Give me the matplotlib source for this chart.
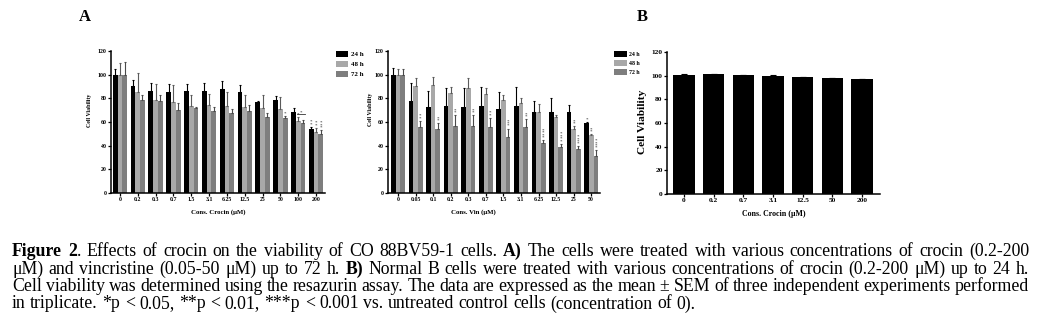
import matplotlib
matplotlib.use('Agg')
import matplotlib.pyplot as plt
import numpy as np
from matplotlib.patches import Patch
from matplotlib.font_manager import FontProperties

plt.rcParams['font.family'] = ['Liberation Serif', 'DejaVu Serif']

# ---------------- data ----------------
series = ['24 h', '48 h', '72 h']
bar_colors = ['#000000', '#a8a8a8', '#7e7e7e']
err_colors = ['#000000', '#5a5a5a', '#4a4a4a']

crocin_labels = ['0', '0.2', '0.3', '0.7', '1.5', '3.1', '6.25', '12.5', '25', '50', '100', '200']
crocin_24 = [100.0, 90.7, 86.0, 85.0, 86.0, 86.4, 87.8, 85.6, 77.1, 78.2, 68.2, 54.0]
crocin_48 = [100.0, 85.6, 78.2, 77.0, 73.4, 74.3, 73.9, 72.6, 71.5, 71.0, 61.0, 51.3]
crocin_72 = [100.0, 78.5, 77.7, 69.8, 71.5, 69.2, 67.2, 69.5, 64.4, 63.0, 59.4, 49.6]
crocin_24_err = [5.0, 4.8, 6.7, 7.0, 6.0, 6.3, 6.7, 5.4, 0.9, 3.4, 3.3, 2.0]
crocin_48_err = [10.0, 15.4, 13.8, 14.0, 9.4, 9.7, 11.1, 10.2, 11.3, 10.4, 3.5, 3.9]
crocin_72_err = [11.0, 4.3, 5.1, 5.9, 1.5, 3.8, 3.8, 4.5, 3.0, 2.2, 2.3, 3.6]
crocin_sig = [(9, 2, '*'), (10, 1, '*'), (11, 0, '**'), (11, 1, '**'), (11, 2, '***')]

vin_labels = ['0', '0.05', '0.1', '0.2', '0.3', '0.7', '1.5', '3.1', '6.25', '12.5', '25', '50']
vin_24 = [100.0, 78.0, 72.9, 73.7, 72.9, 73.7, 70.9, 73.7, 68.6, 68.6, 68.6, 58.8]
vin_48 = [100.0, 90.7, 91.2, 84.7, 88.4, 83.6, 79.0, 76.3, 68.6, 64.4, 53.7, 48.9]
vin_72 = [100.0, 55.4, 54.5, 56.5, 57.0, 55.4, 47.5, 55.4, 42.4, 39.0, 37.6, 31.4]
vin_24_err = [5.5, 14.7, 13.5, 15.3, 16.1, 16.1, 14.1, 15.6, 9.4, 11.4, 5.7, 1.4]
vin_48_err = [4.5, 6.3, 7.1, 5.1, 8.6, 5.4, 3.8, 4.2, 6.3, 1.4, 2.8, 0.8]
vin_72_err = [5.0, 5.6, 4.3, 9.3, 8.8, 8.2, 7.0, 7.0, 2.2, 2.8, 1.9, 4.6]
vin_sig = [(1, 2, '**'), (2, 2, '**'), (3, 2, '**'), (4, 2, '**'), (5, 2, '**'),
           (6, 2, '***'), (7, 2, '**'), (8, 2, '****'), (9, 2, '****'),
           (10, 1, '**'), (10, 2, '****'), (11, 0, '*'), (11, 1, '**'), (11, 2, '****')]

normal_labels = ['0', '0.2', '0.7', '3.1', '12.5', '50', '200']
normal_24 = [100.6, 101.2, 100.2, 99.8, 98.8, 98.0, 96.8]
normal_24_err = [0.5, 0.4, 0.4, 0.4, 0.4, 0.4, 0.5]

# caption: list of (text, bold) segments per line
caption_lines = [
    [("Figure 2", True), (". Effects of crocin on the viability of CO 88BV59-1 cells. ", False),
     ("A)", True), (" The cells were treated with various concentrations of crocin (0.2-200", False)],
    [("μM) and vincristine (0.05-50 μM) up to 72 h. ", False), ("B)", True),
     (" Normal B cells were treated with various concentrations of crocin (0.2-200 μM) up to 24 h.", False)],
    [("Cell viability was determined using the resazurin assay. The data are expressed as the mean ± SEM of three independent experiments performed", False)],
    [("in triplicate. *p < 0.05, **p < 0.01, ***p < 0.001 vs. untreated control cells (concentration of 0).", False)],
]
caption_justify = [True, True, True, False]

# ---------------- figure ----------------
W, H = 1040, 326
fig = plt.figure(figsize=(W / 100, H / 100), dpi=100)


def px_rect(left, right, top, bottom):
    return [left / W, (H - bottom) / H, (right - left) / W, (bottom - top) / H]


def style_axes(ax, labels, tick_fs, xlim):
    ax.set_ylim(0, 120)
    ax.set_yticks(np.arange(0, 121, 20))
    ax.set_xlim(*xlim)
    ax.set_xticks(np.arange(len(labels)))
    ax.set_xticklabels(labels)
    for s in ['top', 'right']:
        ax.spines[s].set_visible(False)
    for s in ['left', 'bottom']:
        ax.spines[s].set_linewidth(1.1)
    ax.tick_params(axis='both', length=2, width=0.9, pad=1.2, labelsize=tick_fs)
    for t in ax.get_xticklabels() + ax.get_yticklabels():
        t.set_fontweight('bold')


def grouped(ax, means, errs, width):
    x = np.arange(len(means[0]))
    n = len(means)
    for i, (m, e) in enumerate(zip(means, errs)):
        off = (i - (n - 1) / 2) * width
        ax.bar(x + off, m, width, color=bar_colors[i], edgecolor='none',
               yerr=[np.zeros(len(e)), e],
               error_kw=dict(ecolor=err_colors[i], elinewidth=0.8, capsize=1.0, capthick=0.8))
    return x


def sig_marks(ax, sig, means, errs, width, fs):
    n = len(means)
    for g, s, mark in sig:
        xo = g + (s - (n - 1) / 2) * width
        top = means[s][g] + errs[s][g]
        ax.text(xo, top + 0.5, '\n'.join(mark), ha='center', va='bottom',
                fontsize=fs, linespacing=0.45, color='#222222')


def legend(ax, x_px, y_px, fs, hl, hh, ls):
    handles = [Patch(facecolor=c, edgecolor='none') for c in bar_colors]
    ax.legend(handles, series, loc='upper left', bbox_to_anchor=(x_px / W, 1 - y_px / H),
              bbox_transform=fig.transFigure, frameon=False,
              prop=dict(family='Liberation Serif', weight='bold', size=fs),
              handlelength=hl, handleheight=hh, labelspacing=ls, handletextpad=0.4,
              borderpad=0, borderaxespad=0)


# Panel A left: crocin
ax1 = fig.add_axes(px_rect(111, 325, 51, 193))
w1 = 0.265
m1 = [crocin_24, crocin_48, crocin_72]
e1 = [crocin_24_err, crocin_48_err, crocin_72_err]
grouped(ax1, m1, e1, w1)
style_axes(ax1, crocin_labels, 4.2, (-0.5, 11.5))
sig_marks(ax1, crocin_sig, m1, e1, w1, 3.6)
ax1.plot([10 - 0.05, 10 + w1 + 0.1], [66.5, 66.5], color='#333333', lw=0.6)
ax1.text(10 + w1 / 2, 66.8, '*', ha='center', va='bottom', fontsize=3.6, color='#222222')
ax1.set_ylabel('Cell Viability', fontsize=4.2, fontweight='bold')
ax1.yaxis.set_label_coords(-0.088, 0.58)
ax1.set_xlabel('Cons. Crocin (μM)', fontsize=4.9, fontweight='bold')
ax1.xaxis.set_label_coords(0.5, -0.115)
legend(ax1, 336, 51, 5.0, 1.7, 1.0, 0.5)

# Panel A right: vincristine
ax2 = fig.add_axes(px_rect(388, 600, 51, 193))
m2 = [vin_24, vin_48, vin_72]
e2 = [vin_24_err, vin_48_err, vin_72_err]
grouped(ax2, m2, e2, w1)
style_axes(ax2, vin_labels, 4.2, (-0.57, 11.5))
sig_marks(ax2, vin_sig, m2, e2, w1, 3.6)
ax2.set_ylabel('Cell Viability', fontsize=4.2, fontweight='bold')
ax2.yaxis.set_label_coords(-0.072, 0.59)
ax2.set_xlabel('Cons. Vin (μM)', fontsize=4.9, fontweight='bold')
ax2.xaxis.set_label_coords(0.405, -0.115)
legend(ax2, 614, 51, 4.2, 2.2, 1.1, 0.55)

# Panel B: normal B cells
ax3 = fig.add_axes(px_rect(667, 880, 52, 194))
x3 = np.arange(len(normal_24))
ax3.bar(x3, normal_24, 0.72, color=bar_colors[0], edgecolor='none',
        yerr=[np.zeros(len(normal_24_err)), normal_24_err],
        error_kw=dict(ecolor='#000000', elinewidth=0.8, capsize=2.0, capthick=0.8))
style_axes(ax3, normal_labels, 5.3, (-0.57, 6.6))
ax3.set_ylabel('Cell Viability', fontsize=8.2, fontweight='bold')
ax3.yaxis.set_label_coords(-0.094, 0.51)
ax3.set_xlabel('Cons. Crocin (μM)', fontsize=5.7, fontweight='bold')
ax3.xaxis.set_label_coords(0.5, -0.11)

# Panel letters
fig.text(85 / W, 1 - 17 / H, 'A', ha='center', va='center', fontsize=12, fontweight='bold')
fig.text(642 / W, 1 - 17 / H, 'B', ha='center', va='center', fontsize=12, fontweight='bold')

# ---------------- caption (word-by-word, justified) ----------------
renderer = fig.canvas.get_renderer()
cap_fs = 12.75
cap_left, cap_right = 12, 1029
cap_y = [251, 269, 286.5, 304]


def fp(bold):
    return FontProperties(family='Liberation Serif', weight='bold' if bold else 'normal', size=cap_fs)


def tw(s, bold):
    w1_, _, _ = renderer.get_text_width_height_descent('x' + s + 'x', fp(bold), ismath=False)
    w0_, _, _ = renderer.get_text_width_height_descent('xx', fp(bold), ismath=False)
    return w1_ - w0_


for segs, y, just in zip(caption_lines, cap_y, caption_justify):
    words = [[]]
    for text, bold in segs:
        parts = text.split(' ')
        for k, p in enumerate(parts):
            if k > 0:
                words.append([])
            if p:
                words[-1].append((p, bold))
    words = [wd for wd in words if wd]
    widths = [sum(tw(p, b) for p, b in wd) for wd in words]
    space = tw(' ', False)
    if just and len(words) > 1:
        gap = (cap_right - cap_left - sum(widths)) / (len(words) - 1)
    else:
        gap = space
    x = cap_left
    for wd, wdw in zip(words, widths):
        xx = x
        for p, b in wd:
            fig.text(xx / W, 1 - y / H, p, ha='left', va='center', fontproperties=fp(b))
            xx += tw(p, b)
        x += wdw + gap

fig.savefig('out.png', dpi=100, facecolor='white')
